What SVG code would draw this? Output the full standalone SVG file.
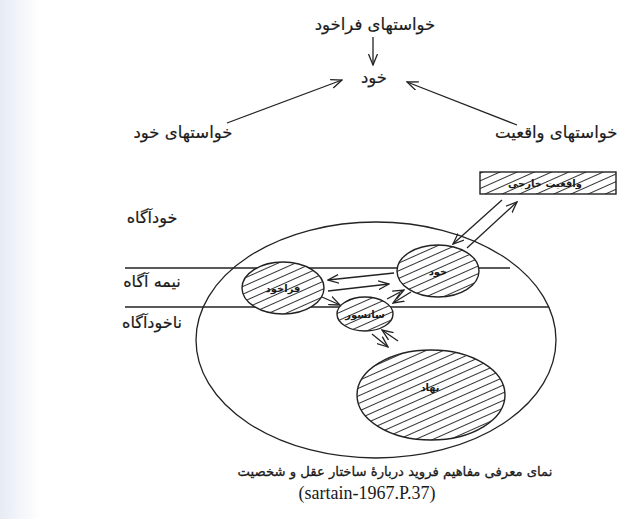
<svg xmlns="http://www.w3.org/2000/svg" width="622" height="519" viewBox="0 0 622 519">
<style>
.t{font-family:"DejaVu Sans","Noto Sans",sans-serif;fill:#1a1a1a;text-anchor:middle}
.lbl{font-size:16.5px;stroke:#1a1a1a;stroke-width:0.2}
.side{font-size:16px;stroke:#1a1a1a;stroke-width:0.2}
.in{font-size:10px;font-weight:bold}
.ln{stroke:#222;stroke-width:1.3;fill:none}
.ar{stroke:#222;stroke-width:1.3;fill:none;marker-end:url(#ah)}
.sh{stroke:#222;stroke-width:1.4;fill:url(#hatch)}
</style>
<defs>
<marker id="ah" viewBox="0 0 12 10" refX="11" refY="5" markerWidth="12" markerHeight="10" markerUnits="userSpaceOnUse" orient="auto">
<path d="M0,0.5 L11,5 L0,9.5" fill="none" stroke="#222" stroke-width="1.3"/>
</marker>
<pattern id="hatch" width="10" height="7" patternUnits="userSpaceOnUse" patternTransform="rotate(-24)">
<rect width="10" height="7" fill="#fff"/>
<line x1="0" y1="3.5" x2="10" y2="3.5" stroke="#333" stroke-width="1"/>
</pattern>
<linearGradient id="bg" x1="0" y1="0" x2="1" y2="0">
<stop offset="0" stop-color="#e6ebf4"/>
<stop offset="1" stop-color="#ffffff"/>
</linearGradient>
</defs>
<rect width="622" height="519" fill="#fff"/>
<rect width="40" height="519" fill="url(#bg)"/>

<g id="top-labels">
<g id="n-superego-demands"><text class="t lbl" x="375" y="30">خواستهای فراخود</text></g>
<g id="n-self"><text class="t lbl" x="374" y="83">خود</text></g>
<g id="n-self-demands"><text class="t lbl" x="183" y="138">خواستهای خود</text></g>
<g id="n-reality-demands"><text class="t lbl" style="text-anchor:start" x="495" y="138">خواستهای واقعیت</text></g>
</g>

<g id="levels">
<line class="ln" x1="125" y1="268" x2="510" y2="268"/>
<line class="ln" x1="125" y1="307" x2="549" y2="307"/>
<g id="n-conscious"><text class="t side" x="152" y="223">خودآگاه</text></g>
<g id="n-preconscious"><text class="t side" x="152" y="287">نیمه آگاه</text></g>
<g id="n-unconscious"><text class="t side" x="152" y="328">ناخودآگاه</text></g>
</g>

<g id="n-mind"><ellipse class="ln" cx="376" cy="340" rx="180" ry="118"/></g>

<g id="n-reality"><rect class="sh" x="480" y="172" width="136" height="22"/><text class="t in" x="545" y="187">واقعیت خارجی</text></g>
<g id="n-ego"><ellipse class="sh" cx="438" cy="271" rx="41" ry="26"/><text class="t in" x="438" y="275">خود</text></g>
<g id="n-superego"><ellipse class="sh" cx="283" cy="288" rx="41" ry="26"/><text class="t in" x="283" y="292">فراخود</text></g>
<g id="n-censor"><ellipse class="sh" cx="365" cy="314" rx="28" ry="17"/><text class="t in" x="365" y="318">سانسور</text></g>
<g id="n-id"><ellipse class="sh" cx="431" cy="395" rx="74" ry="45"/><text class="t in" x="430" y="391">نهاد</text></g>

<g id="connectors">
<line class="ar" x1="373" y1="37" x2="373" y2="65"/>
<line class="ar" x1="227" y1="123" x2="342" y2="80"/>
<line class="ar" x1="517" y1="125" x2="407" y2="82"/>
<line class="ar" x1="502" y1="200" x2="453" y2="244"/>
<line class="ar" x1="467" y1="248" x2="517" y2="202"/>
<line class="ar" x1="394" y1="273" x2="328" y2="280"/>
<line class="ar" x1="328" y1="291" x2="389" y2="284"/>
<line class="ar" x1="322" y1="297" x2="340" y2="305"/>
<line class="ar" x1="387" y1="299" x2="404" y2="290"/>
<line class="ar" x1="411" y1="292" x2="393" y2="303"/>
<line class="ar" x1="372" y1="334" x2="388" y2="347"/>
<line class="ar" x1="398" y1="341" x2="382" y2="330"/>
</g>

<g id="caption">
<text class="t" style="font-size:13.2px;stroke:#1a1a1a;stroke-width:0.3" x="395" y="476">نمای معرفی مفاهیم فروید دربارهٔ ساختار عقل و شخصیت</text>
<text style="font-family:'Liberation Serif',serif;font-size:18px;fill:#1a1a1a;text-anchor:middle" x="367" y="499">(sartain-1967.P.37)</text>
</g>
</svg>
